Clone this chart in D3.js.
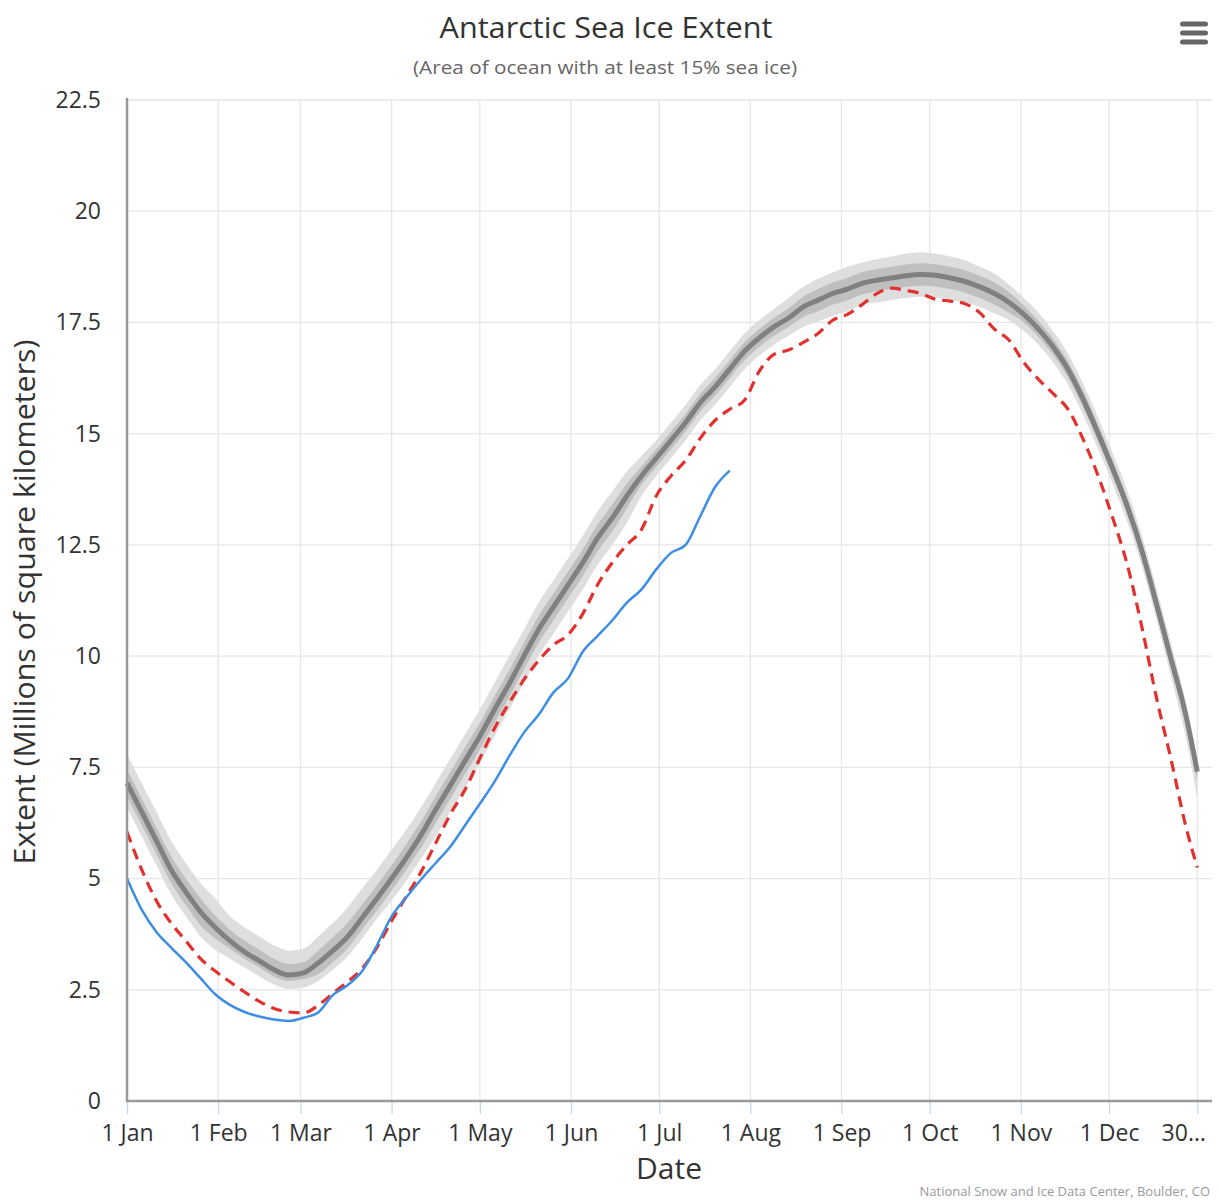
<!DOCTYPE html>
<html>
<head>
<meta charset="utf-8">
<script src="https://cdn.jsdelivr.net/npm/d3@7"></script>
<style>
  html, body { margin: 0; padding: 0; background: #fff; }
  svg { display: block; font-family: "Open Sans", "Noto Sans", sans-serif; }
</style>
</head>
<body>
<svg id="chart" width="1219" height="1202"></svg>
<script>
// ---- data (day of year, 0 = 1 Jan) ----
const days = [0,5,10,15,20,25,30,35,40,45,50,55,60,65,70,75,80,85,90,95,100,105,110,115,120,125,130,135,140,145,150,155,160,165,170,175,180,185,190,195,200,205,210,215,220,225,230,235,240,245,250,255,260,265,270,275,280,285,290,295,300,305,310,315,320,325,330,335,340,345,350,355,360,364];

const median = [7.15,6.5,5.85,5.2,4.7,4.25,3.9,3.6,3.35,3.15,2.95,2.83,2.88,3.1,3.38,3.69,4.12,4.55,5.0,5.47,5.98,6.55,7.1,7.65,8.2,8.8,9.38,10.0,10.6,11.1,11.6,12.1,12.65,13.1,13.6,14.05,14.45,14.85,15.25,15.7,16.05,16.45,16.85,17.15,17.4,17.6,17.85,18.0,18.15,18.25,18.38,18.45,18.5,18.55,18.58,18.56,18.5,18.42,18.3,18.15,17.95,17.68,17.35,16.95,16.45,15.8,15.05,14.25,13.4,12.4,11.2,9.95,8.7,7.4];

const iqrLow = [6.85,6.2,5.55,4.9,4.4,3.95,3.65,3.42,3.2,3.0,2.8,2.7,2.74,2.85,3.12,3.43,3.86,4.28,4.73,5.2,5.7,6.25,6.8,7.35,7.9,8.5,9.08,9.7,10.3,10.8,11.3,11.8,12.35,12.8,13.32,13.85,14.25,14.65,15.05,15.5,15.85,16.25,16.65,16.95,17.2,17.4,17.62,17.75,17.9,18.0,18.13,18.2,18.25,18.3,18.33,18.31,18.25,18.17,18.05,17.9,17.72,17.5,17.17,16.77,16.27,15.62,14.87,14.07,13.22,12.22,11.02,9.75,8.5,7.2];
const iqrHigh = [7.45,6.8,6.15,5.5,5.0,4.55,4.17,3.85,3.6,3.4,3.2,3.08,3.12,3.38,3.68,4.0,4.42,4.85,5.3,5.77,6.28,6.85,7.4,7.95,8.5,9.1,9.68,10.3,10.9,11.4,11.9,12.4,12.95,13.4,13.88,14.27,14.65,15.05,15.45,15.9,16.25,16.65,17.05,17.35,17.6,17.82,18.08,18.25,18.4,18.5,18.63,18.7,18.75,18.8,18.83,18.81,18.75,18.67,18.55,18.4,18.18,17.88,17.53,17.13,16.63,15.98,15.23,14.43,13.58,12.58,11.38,10.15,8.9,7.6];

const idrLow = [6.6,5.95,5.3,4.65,4.15,3.7,3.4,3.2,3.0,2.8,2.62,2.52,2.55,2.7,2.95,3.25,3.65,4.1,4.5,4.95,5.45,5.95,6.5,7.05,7.6,8.2,8.8,9.4,10.0,10.5,11.0,11.5,12.05,12.5,13.0,13.6,14.05,14.45,14.85,15.3,15.65,16.05,16.45,16.75,17.0,17.2,17.4,17.52,17.65,17.75,17.9,17.95,18.0,18.05,18.08,18.06,18.0,17.95,17.85,17.7,17.55,17.3,17.0,16.6,16.1,15.45,14.7,13.9,13.05,12.05,10.85,9.55,8.2,6.8];
const idrHigh = [7.8,7.15,6.5,5.85,5.35,4.9,4.55,4.15,3.9,3.7,3.5,3.38,3.42,3.7,4.0,4.35,4.78,5.2,5.65,6.1,6.6,7.15,7.7,8.25,8.8,9.4,10.0,10.6,11.2,11.7,12.2,12.7,13.25,13.7,14.15,14.5,14.85,15.25,15.65,16.1,16.45,16.85,17.25,17.55,17.8,18.05,18.3,18.48,18.62,18.75,18.85,18.92,18.98,19.05,19.08,19.05,18.98,18.9,18.75,18.6,18.35,18.05,17.72,17.3,16.8,16.15,15.4,14.6,13.75,12.75,11.55,10.3,9.0,7.7];

const redValues = [6.05,5.2,4.5,4.0,3.6,3.2,2.92,2.68,2.45,2.24,2.08,2.0,1.98,2.15,2.42,2.68,2.98,3.45,4.05,4.6,5.15,5.8,6.45,7.0,7.7,8.38,8.95,9.47,9.9,10.25,10.48,10.95,11.6,12.1,12.5,12.85,13.6,14.05,14.4,14.9,15.3,15.55,15.75,16.4,16.78,16.88,17.05,17.25,17.55,17.68,17.9,18.15,18.27,18.22,18.15,18.02,17.98,17.92,17.72,17.35,17.1,16.6,16.22,15.9,15.55,14.9,14.1,13.15,12.1,10.7,9.1,7.7,6.2,5.25];

const blueDays = [0,5,10,15,20,25,30,35,40,45,50,55,60,65,70,75,80,85,90,95,100,105,110,115,120,125,130,135,140,145,150,155,160,165,170,175,180,185,190,195,200,205];
const blueValues = [5.0,4.3,3.8,3.45,3.12,2.76,2.4,2.16,2.0,1.9,1.83,1.8,1.87,1.99,2.38,2.6,2.92,3.5,4.15,4.58,4.98,5.35,5.72,6.2,6.68,7.18,7.75,8.28,8.68,9.18,9.5,10.1,10.45,10.8,11.2,11.5,11.95,12.32,12.5,13.15,13.8,14.17];

const tickDays = [0,31,59,90,120,151,181,212,243,273,304,334,364];
const tickLabels = ["1 Jan","1 Feb","1 Mar","1 Apr","1 May","1 Jun","1 Jul","1 Aug","1 Sep","1 Oct","1 Nov","1 Dec","30…"];
const yTicks = [0,2.5,5,7.5,10,12.5,15,17.5,20,22.5];

// ---- layout ----
const svg = d3.select("#chart");
const L = 127, R = 1212, T = 100, B = 1101;
const x = d3.scaleLinear().domain([0, 369]).range([L, R]);
const y = d3.scaleLinear().domain([0, 22.5]).range([B, T]);

// grid
const grid = svg.append("g");
grid.selectAll("line.h").data(yTicks).join("line")
  .attr("x1", L).attr("x2", R)
  .attr("y1", d => y(d)).attr("y2", d => y(d))
  .attr("stroke", "#e6e6e6").attr("stroke-width", 1.3);
grid.selectAll("line.v").data(tickDays.slice(1)).join("line")
  .attr("x1", d => x(d)).attr("x2", d => x(d))
  .attr("y1", T).attr("y2", B)
  .attr("stroke", "#e6e6e6").attr("stroke-width", 1.3);

// bands
const idr = days.map((d, i) => ({d, lo: idrLow[i], hi: idrHigh[i]}));
const iqr = days.map((d, i) => ({d, lo: iqrLow[i], hi: iqrHigh[i]}));
const area = d3.area().x(p => x(p.d)).y0(p => y(p.lo)).y1(p => y(p.hi)).curve(d3.curveMonotoneX);
svg.append("path").datum(idr).attr("d", area).attr("fill", "#dedede");
svg.append("path").datum(iqr).attr("d", area).attr("fill", "#bfbfbf");

const line = d3.line().x(p => x(p[0])).y(p => y(p[1])).curve(d3.curveMonotoneX);
svg.append("path").datum(days.map((d, i) => [d, median[i]]))
  .attr("d", line).attr("fill", "none").attr("stroke", "#808080").attr("stroke-width", 5);

svg.append("path").datum(days.map((d, i) => [d, redValues[i]]))
  .attr("d", line).attr("fill", "none").attr("stroke", "#e0312f")
  .attr("stroke-width", 3.2).attr("stroke-dasharray", "11,7");

svg.append("path").datum(blueDays.map((d, i) => [d, blueValues[i]]))
  .attr("d", line).attr("fill", "none").attr("stroke", "#3d8ee2").attr("stroke-width", 2.5);

// axes
const xAxis = svg.append("g").attr("transform", `translate(0,${B})`)
  .call(d3.axisBottom(x).tickValues(tickDays).tickFormat((d, i) => tickLabels[i]).tickSize(13).tickPadding(11));
xAxis.select(".domain").remove();
xAxis.selectAll(".tick line").attr("stroke", "#ccd6eb").attr("stroke-width", 1.3);
xAxis.selectAll(".tick text").attr("font-size", 23).attr("fill", "#333")
  .attr("font-family", "'Open Sans', sans-serif");
xAxis.selectAll(".tick").filter((d, i) => i === tickDays.length - 1)
  .select("text").attr("text-anchor", "end").attr("dx", 8);

const yAxis = svg.append("g").attr("transform", `translate(${L},0)`)
  .call(d3.axisLeft(y).tickValues(yTicks).tickFormat(d => String(d)).tickSize(0).tickPadding(26));
yAxis.select(".domain").remove();
yAxis.selectAll(".tick text").attr("font-size", 23).attr("fill", "#333")
  .attr("font-family", "'Open Sans', sans-serif");

svg.append("line").attr("x1", L).attr("x2", L).attr("y1", T - 2).attr("y2", B + 1)
  .attr("stroke", "#999").attr("stroke-width", 2.5);
svg.append("line").attr("x1", L - 1).attr("x2", R).attr("y1", B).attr("y2", B)
  .attr("stroke", "#999").attr("stroke-width", 2.5);

// titles
svg.append("text").attr("x", 606).attr("y", 38).attr("text-anchor", "middle")
  .attr("font-size", 29).attr("fill", "#333")
  .attr("textLength", 333).attr("lengthAdjust", "spacingAndGlyphs")
  .text("Antarctic Sea Ice Extent");
svg.append("text").attr("x", 605).attr("y", 74).attr("text-anchor", "middle")
  .attr("font-size", 19).attr("fill", "#666")
  .attr("textLength", 384).attr("lengthAdjust", "spacingAndGlyphs")
  .text("(Area of ocean with at least 15% sea ice)");
svg.append("text").attr("x", 669).attr("y", 1179).attr("text-anchor", "middle")
  .attr("font-size", 30).attr("fill", "#333").text("Date");
svg.append("text").attr("transform", "translate(35,602) rotate(-90)").attr("text-anchor", "middle")
  .attr("font-size", 30).attr("fill", "#333")
  .attr("textLength", 525).attr("lengthAdjust", "spacingAndGlyphs")
  .text("Extent (Millions of square kilometers)");
svg.append("text").attr("x", 1210).attr("y", 1196).attr("text-anchor", "end")
  .attr("font-size", 13).attr("fill", "#999").text("National Snow and Ice Data Center, Boulder, CO");

// menu icon
const menu = svg.append("g");
[24, 33, 42].forEach(yy => {
  menu.append("rect").attr("x", 1180).attr("y", yy - 2.5).attr("width", 28).attr("height", 5)
    .attr("rx", 2.5).attr("fill", "#666");
});
</script>
</body>
</html>
